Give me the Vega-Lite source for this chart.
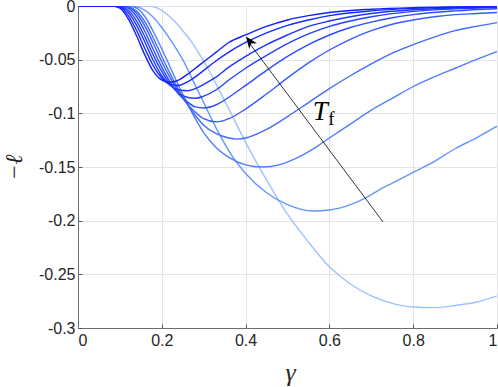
{
  "$schema": "https://vega.github.io/schema/vega-lite/v6.json",
  "width": 419,
  "height": 322,
  "autosize": {"type": "none"},
  "padding": {"left": 78, "top": 6, "right": 1, "bottom": 59},
  "config": {
    "view": {"stroke": null},
    "axis": {
      "grid": true,
      "gridColor": "#e4e4e4",
      "gridWidth": 1,
      "domainColor": "#6e6e6e",
      "domainWidth": 1,
      "tickColor": "#555555",
      "tickSize": -4,
      "labelFont": "Liberation Sans",
      "labelFontSize": 16,
      "labelColor": "#262626",
      "titleFont": "Liberation Serif",
      "titleFontStyle": "italic",
      "titleFontWeight": "normal",
      "titleColor": "#262626"
    }
  },
  "layer": [
    {
      "data": {"values": [
        {"c":1,"g":0,"v":0},{"c":1,"g":0.17,"v":0},{"c":1,"g":0.19,"v":-0.002},{"c":1,"g":0.21,"v":-0.007},{"c":1,"g":0.23,"v":-0.014},{"c":1,"g":0.25,"v":-0.023},{"c":1,"g":0.27,"v":-0.033},{"c":1,"g":0.29,"v":-0.045},{"c":1,"g":0.31,"v":-0.058},{"c":1,"g":0.33,"v":-0.073},{"c":1,"g":0.36,"v":-0.096},{"c":1,"g":0.4,"v":-0.127},{"c":1,"g":0.45,"v":-0.162},{"c":1,"g":0.5,"v":-0.194},{"c":1,"g":0.55,"v":-0.22},{"c":1,"g":0.6,"v":-0.243},{"c":1,"g":0.65,"v":-0.259},{"c":1,"g":0.7,"v":-0.27},{"c":1,"g":0.75,"v":-0.277},{"c":1,"g":0.8,"v":-0.2805},{"c":1,"g":0.85,"v":-0.281},{"c":1,"g":0.9,"v":-0.279},{"c":1,"g":0.95,"v":-0.276},{"c":1,"g":1,"v":-0.27},

        {"c":2,"g":0,"v":0},{"c":2,"g":0.13,"v":0},{"c":2,"g":0.15,"v":-0.002},{"c":2,"g":0.17,"v":-0.007},{"c":2,"g":0.2,"v":-0.02},{"c":2,"g":0.22,"v":-0.031},{"c":2,"g":0.25,"v":-0.05},{"c":2,"g":0.28,"v":-0.074},{"c":2,"g":0.3,"v":-0.09},{"c":2,"g":0.33,"v":-0.114},{"c":2,"g":0.37,"v":-0.141},{"c":2,"g":0.4,"v":-0.156},{"c":2,"g":0.45,"v":-0.174},{"c":2,"g":0.5,"v":-0.185},{"c":2,"g":0.56,"v":-0.191},{"c":2,"g":0.6,"v":-0.19},{"c":2,"g":0.65,"v":-0.185},{"c":2,"g":0.69,"v":-0.178},{"c":2,"g":0.72,"v":-0.171},{"c":2,"g":0.75,"v":-0.165},{"c":2,"g":0.8,"v":-0.155},{"c":2,"g":0.85,"v":-0.145},{"c":2,"g":0.9,"v":-0.133},{"c":2,"g":0.95,"v":-0.123},{"c":2,"g":1,"v":-0.112},

        {"c":3,"g":0,"v":0},{"c":3,"g":0.12,"v":0},{"c":3,"g":0.14,"v":-0.002},{"c":3,"g":0.16,"v":-0.01},{"c":3,"g":0.18,"v":-0.024},{"c":3,"g":0.2,"v":-0.04},{"c":3,"g":0.22,"v":-0.057},{"c":3,"g":0.24,"v":-0.074},{"c":3,"g":0.26,"v":-0.09},{"c":3,"g":0.28,"v":-0.105},{"c":3,"g":0.3,"v":-0.118},{"c":3,"g":0.33,"v":-0.132},{"c":3,"g":0.36,"v":-0.141},{"c":3,"g":0.4,"v":-0.148},{"c":3,"g":0.44,"v":-0.15},{"c":3,"g":0.48,"v":-0.148},{"c":3,"g":0.52,"v":-0.142},{"c":3,"g":0.57,"v":-0.131},{"c":3,"g":0.6,"v":-0.123},{"c":3,"g":0.65,"v":-0.11},{"c":3,"g":0.7,"v":-0.097},{"c":3,"g":0.75,"v":-0.086},{"c":3,"g":0.8,"v":-0.075},{"c":3,"g":0.85,"v":-0.066},{"c":3,"g":0.9,"v":-0.058},{"c":3,"g":0.95,"v":-0.05},{"c":3,"g":1,"v":-0.0424},

        {"c":4,"g":0,"v":0},{"c":4,"g":0.11,"v":0},{"c":4,"g":0.14,"v":-0.005},{"c":4,"g":0.16,"v":-0.015},{"c":4,"g":0.18,"v":-0.03},{"c":4,"g":0.2,"v":-0.047},{"c":4,"g":0.22,"v":-0.063},{"c":4,"g":0.24,"v":-0.078},{"c":4,"g":0.26,"v":-0.091},{"c":4,"g":0.28,"v":-0.102},{"c":4,"g":0.3,"v":-0.111},{"c":4,"g":0.33,"v":-0.119},{"c":4,"g":0.36,"v":-0.123},{"c":4,"g":0.38,"v":-0.124},{"c":4,"g":0.4,"v":-0.123},{"c":4,"g":0.45,"v":-0.115},{"c":4,"g":0.5,"v":-0.103},{"c":4,"g":0.55,"v":-0.09},{"c":4,"g":0.6,"v":-0.077},{"c":4,"g":0.65,"v":-0.065},{"c":4,"g":0.7,"v":-0.054},{"c":4,"g":0.75,"v":-0.044},{"c":4,"g":0.8,"v":-0.036},{"c":4,"g":0.85,"v":-0.029},{"c":4,"g":0.9,"v":-0.023},{"c":4,"g":0.95,"v":-0.019},{"c":4,"g":1,"v":-0.0155},

        {"c":5,"g":0,"v":0},{"c":5,"g":0.105,"v":0},{"c":5,"g":0.12,"v":-0.001},{"c":5,"g":0.14,"v":-0.007},{"c":5,"g":0.16,"v":-0.019},{"c":5,"g":0.18,"v":-0.035},{"c":5,"g":0.2,"v":-0.052},{"c":5,"g":0.22,"v":-0.067},{"c":5,"g":0.24,"v":-0.08},{"c":5,"g":0.26,"v":-0.091},{"c":5,"g":0.28,"v":-0.099},{"c":5,"g":0.3,"v":-0.105},{"c":5,"g":0.33,"v":-0.108},{"c":5,"g":0.36,"v":-0.105},{"c":5,"g":0.4,"v":-0.096},{"c":5,"g":0.45,"v":-0.082},{"c":5,"g":0.5,"v":-0.067},{"c":5,"g":0.55,"v":-0.053},{"c":5,"g":0.6,"v":-0.041},{"c":5,"g":0.65,"v":-0.031},{"c":5,"g":0.7,"v":-0.023},{"c":5,"g":0.75,"v":-0.017},{"c":5,"g":0.8,"v":-0.013},{"c":5,"g":0.85,"v":-0.01},{"c":5,"g":0.9,"v":-0.008},{"c":5,"g":0.95,"v":-0.007},{"c":5,"g":1,"v":-0.006},

        {"c":6,"g":0,"v":0},{"c":6,"g":0.1,"v":0},{"c":6,"g":0.12,"v":-0.002},{"c":6,"g":0.14,"v":-0.01},{"c":6,"g":0.16,"v":-0.024},{"c":6,"g":0.18,"v":-0.041},{"c":6,"g":0.2,"v":-0.057},{"c":6,"g":0.22,"v":-0.071},{"c":6,"g":0.24,"v":-0.082},{"c":6,"g":0.26,"v":-0.089},{"c":6,"g":0.28,"v":-0.094},{"c":6,"g":0.3,"v":-0.095},{"c":6,"g":0.33,"v":-0.092},{"c":6,"g":0.36,"v":-0.085},{"c":6,"g":0.4,"v":-0.074},{"c":6,"g":0.45,"v":-0.06},{"c":6,"g":0.5,"v":-0.047},{"c":6,"g":0.55,"v":-0.036},{"c":6,"g":0.6,"v":-0.027},{"c":6,"g":0.65,"v":-0.02},{"c":6,"g":0.7,"v":-0.015},{"c":6,"g":0.75,"v":-0.011},{"c":6,"g":0.8,"v":-0.008},{"c":6,"g":0.9,"v":-0.0045},{"c":6,"g":1,"v":-0.0025},

        {"c":7,"g":0,"v":0},{"c":7,"g":0.095,"v":0},{"c":7,"g":0.12,"v":-0.004},{"c":7,"g":0.14,"v":-0.014},{"c":7,"g":0.16,"v":-0.029},{"c":7,"g":0.18,"v":-0.046},{"c":7,"g":0.2,"v":-0.061},{"c":7,"g":0.22,"v":-0.073},{"c":7,"g":0.24,"v":-0.081},{"c":7,"g":0.26,"v":-0.085},{"c":7,"g":0.28,"v":-0.086},{"c":7,"g":0.3,"v":-0.084},{"c":7,"g":0.33,"v":-0.078},{"c":7,"g":0.36,"v":-0.069},{"c":7,"g":0.4,"v":-0.058},{"c":7,"g":0.45,"v":-0.046},{"c":7,"g":0.5,"v":-0.035},{"c":7,"g":0.55,"v":-0.026},{"c":7,"g":0.6,"v":-0.019},{"c":7,"g":0.65,"v":-0.014},{"c":7,"g":0.7,"v":-0.01},{"c":7,"g":0.8,"v":-0.005},{"c":7,"g":0.9,"v":-0.0027},{"c":7,"g":1,"v":-0.0015},

        {"c":8,"g":0,"v":0},{"c":8,"g":0.09,"v":0},{"c":8,"g":0.1,"v":-0.0005},{"c":8,"g":0.12,"v":-0.006},{"c":8,"g":0.14,"v":-0.018},{"c":8,"g":0.16,"v":-0.034},{"c":8,"g":0.18,"v":-0.051},{"c":8,"g":0.2,"v":-0.065},{"c":8,"g":0.22,"v":-0.074},{"c":8,"g":0.24,"v":-0.078},{"c":8,"g":0.26,"v":-0.079},{"c":8,"g":0.28,"v":-0.077},{"c":8,"g":0.3,"v":-0.073},{"c":8,"g":0.33,"v":-0.066},{"c":8,"g":0.36,"v":-0.057},{"c":8,"g":0.4,"v":-0.047},{"c":8,"g":0.45,"v":-0.036},{"c":8,"g":0.5,"v":-0.027},{"c":8,"g":0.55,"v":-0.019},{"c":8,"g":0.6,"v":-0.014},{"c":8,"g":0.65,"v":-0.01},{"c":8,"g":0.7,"v":-0.007},{"c":8,"g":0.8,"v":-0.0035},{"c":8,"g":0.9,"v":-0.0018},{"c":8,"g":1,"v":-0.001},

        {"c":9,"g":0,"v":0},{"c":9,"g":0.085,"v":0},{"c":9,"g":0.1,"v":-0.001},{"c":9,"g":0.12,"v":-0.009},{"c":9,"g":0.14,"v":-0.023},{"c":9,"g":0.16,"v":-0.04},{"c":9,"g":0.18,"v":-0.056},{"c":9,"g":0.2,"v":-0.067},{"c":9,"g":0.22,"v":-0.073},{"c":9,"g":0.24,"v":-0.074},{"c":9,"g":0.26,"v":-0.071},{"c":9,"g":0.28,"v":-0.066},{"c":9,"g":0.3,"v":-0.06},{"c":9,"g":0.33,"v":-0.051},{"c":9,"g":0.36,"v":-0.043},{"c":9,"g":0.4,"v":-0.034},{"c":9,"g":0.45,"v":-0.025},{"c":9,"g":0.5,"v":-0.018},{"c":9,"g":0.55,"v":-0.013},{"c":9,"g":0.6,"v":-0.009},{"c":9,"g":0.7,"v":-0.0045},{"c":9,"g":0.8,"v":-0.0022},{"c":9,"g":0.9,"v":-0.0012},{"c":9,"g":1,"v":-0.0007},

        {"c":10,"g":0,"v":0},{"c":10,"g":0.08,"v":0},{"c":10,"g":0.1,"v":-0.002},{"c":10,"g":0.12,"v":-0.012},{"c":10,"g":0.14,"v":-0.028},{"c":10,"g":0.16,"v":-0.046},{"c":10,"g":0.18,"v":-0.061},{"c":10,"g":0.2,"v":-0.069},{"c":10,"g":0.22,"v":-0.071},{"c":10,"g":0.24,"v":-0.069},{"c":10,"g":0.26,"v":-0.064},{"c":10,"g":0.28,"v":-0.058},{"c":10,"g":0.3,"v":-0.052},{"c":10,"g":0.33,"v":-0.043},{"c":10,"g":0.36,"v":-0.034},{"c":10,"g":0.4,"v":-0.027},{"c":10,"g":0.45,"v":-0.019},{"c":10,"g":0.5,"v":-0.013},{"c":10,"g":0.55,"v":-0.009},{"c":10,"g":0.6,"v":-0.006},{"c":10,"g":0.7,"v":-0.003},{"c":10,"g":0.8,"v":-0.0015},{"c":10,"g":0.9,"v":-0.0008},{"c":10,"g":1,"v":-0.0004}
      ]},
      "mark": {"type": "line", "interpolate": "monotone", "strokeWidth": 1.4, "clip": true},
      "encoding": {
        "x": {
          "field": "g", "type": "quantitative",
          "scale": {"domain": [0, 1], "nice": false, "zero": false},
          "axis": {
            "values": [0, 0.2, 0.4, 0.6, 0.8, 1],
            "labelExpr": "format(datum.value, '~g')",
            "labelPadding": 8,
            "title": "γ",
            "titleFontSize": 26,
            "titleX": 212,
            "titleY": 52,
            "titleBaseline": "alphabetic",
            "titleAlign": "center"
          }
        },
        "y": {
          "field": "v", "type": "quantitative",
          "scale": {"domain": [-0.3, 0], "nice": false, "zero": false},
          "axis": {
            "values": [0, -0.05, -0.1, -0.15, -0.2, -0.25, -0.3],
            "labelExpr": "datum.value < 0 ? '-' + format(-datum.value, '~g') : '0'",
            "labelPadding": 7,
            "title": "−ℓ",
            "titleFontSize": 24,
            "titleAngle": -90,
            "titleX": -64,
            "titleY": 161,
            "titleAlign": "center",
            "titleBaseline": "middle"
          }
        },
        "color": {
          "field": "c", "type": "ordinal",
          "scale": {
            "domain": [1, 2, 3, 4, 5, 6, 7, 8, 9, 10],
            "range": ["#9cc3ff", "#6496ff", "#4f7fff", "#426cff", "#375cff", "#2d4dff", "#2541ff", "#1d35ff", "#162aff", "#1020ff"]
          },
          "legend": null
        }
      }
    },
    {
      "data": {"values": [{"x": 0.728, "y": -0.2012, "x2": 0.404, "y2": -0.032}]},
      "mark": {"type": "rule", "color": "#000000", "strokeWidth": 0.8},
      "encoding": {
        "x": {"field": "x", "type": "quantitative"},
        "y": {"field": "y", "type": "quantitative"},
        "x2": {"field": "x2"},
        "y2": {"field": "y2"}
      }
    },
    {
      "data": {"values": [{"x": 0.401, "y": -0.0285}]},
      "mark": {"type": "point", "shape": "M0,0L0.4,1L0,0.72L-0.4,1Z", "size": 560, "filled": true, "color": "#000000", "opacity": 1, "angle": 323.6},
      "encoding": {
        "x": {"field": "x", "type": "quantitative"},
        "y": {"field": "y", "type": "quantitative"}
      }
    },
    {
      "data": {"values": [{"x": 0.578, "y": -0.1062, "t": "T"}]},
      "mark": {"type": "text", "font": "Liberation Serif", "fontStyle": "italic", "fontSize": 27, "align": "center", "baseline": "alphabetic", "color": "#000000"},
      "encoding": {
        "x": {"field": "x", "type": "quantitative"},
        "y": {"field": "y", "type": "quantitative"},
        "text": {"field": "t"}
      }
    },
    {
      "data": {"values": [{"x": 0.605, "y": -0.1109, "t": "f"}]},
      "mark": {"type": "text", "font": "Liberation Serif", "fontSize": 19, "align": "center", "baseline": "alphabetic", "color": "#000000"},
      "encoding": {
        "x": {"field": "x", "type": "quantitative"},
        "y": {"field": "y", "type": "quantitative"},
        "text": {"field": "t"}
      }
    }
  ]
}
